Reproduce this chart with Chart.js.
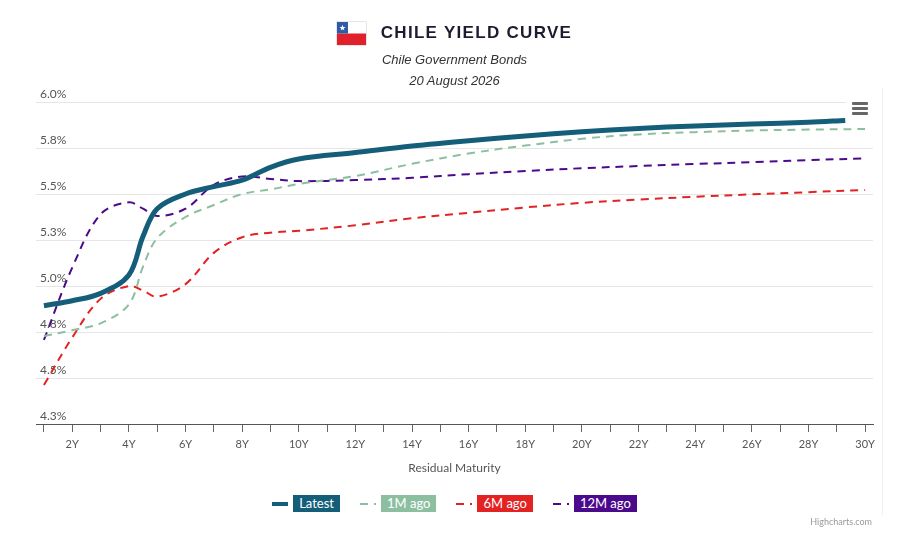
<!DOCTYPE html>
<html>
<head>
<meta charset="utf-8">
<title>Chile Yield Curve</title>
<script src="https://cdn.jsdelivr.net/npm/chart.js@4.4.1/dist/chart.umd.min.js"></script>
<style>
  html, body { margin: 0; padding: 0; background: #fff; }
  #wrap { position: relative; width: 920px; height: 539px; overflow: hidden; font-family: Lato, sans-serif; }
  #chart { position: absolute; left: 0; top: 0; }
  .head { position: absolute; left: 0; width: 909px; display: flex; justify-content: center; align-items: center; }
  #title { top: 21px; height: 24px; }
  #title span { font-family: "Liberation Sans", Arial, sans-serif; font-weight: bold; font-size: 17px; letter-spacing: 1.3px; color: #1c1c30; margin-left: 15px; }
  .flag { width: 29px; height: 23px; position: relative; box-shadow: 0 0 0 0.5px #ccc; }
  .sub { font-family: "Liberation Sans", Arial, sans-serif; font-style: italic; font-size: 13px; color: #333; height: 21px; }
  #legend { top: 495px; height: 17px; }
  .item { display: flex; align-items: center; margin: 0 10px; }
  .item svg { margin-right: 5px; }
  .item b { font-weight: normal; font-size: 13px; color: #fff; line-height: 17px; padding: 0 6px; }
  #menu { position: absolute; left: 846px; top: 97px; width: 27px; height: 24px; background: #fff; }
  #menu i { position: absolute; left: 6px; width: 16px; height: 2.5px; background: #666; border-radius: 1px; }
  #credit { position: absolute; right: 48px; top: 516px; font-size: 9px; color: #999; }
  #edge { position: absolute; left: 882px; top: 88px; width: 1px; height: 427px; background: #f0f0f0; }
</style>
</head>
<body>
<div id="wrap">
  <canvas id="chart" width="920" height="539"></canvas>
  <div id="edge"></div>
  <div id="title" class="head">
    <div class="flag">
      <svg width="29" height="23" viewBox="0 0 29 23">
        <rect x="0" y="0" width="29" height="11.5" fill="#ffffff"/>
        <rect x="0" y="11.5" width="29" height="11.5" fill="#e0202a"/>
        <rect x="0" y="0" width="11" height="11.5" fill="#2f5aa8"/>
        <polygon points="5.5,2.8 6.3,5.0 8.6,5.0 6.7,6.4 7.4,8.6 5.5,7.2 3.6,8.6 4.3,6.4 2.4,5.0 4.7,5.0" fill="#fff"/>
      </svg>
    </div>
    <span>CHILE YIELD CURVE</span>
  </div>
  <div class="head sub" style="top:49px">Chile Government Bonds</div>
  <div class="head sub" style="top:70px">20 August 2026</div>
  <div id="menu"><i style="top:5px"></i><i style="top:10px"></i><i style="top:15px"></i></div>
  <div id="legend" class="head"></div>
  <div id="credit">Highcharts.com</div>
</div>
<script>
const tenors = [1, 2, 3, 4, 4.5, 5, 6, 7, 8, 9, 10, 12, 14, 16, 18, 20, 22, 24, 26, 28, 30];
const latestTenors = [1, 2, 3, 4, 4.5, 5, 6, 7, 8, 9, 10, 12, 14, 16, 18, 20, 22, 24, 26, 28, 29.3];

const latest = [4.893, 4.92, 4.96, 5.06, 5.27, 5.42, 5.50, 5.54, 5.575, 5.645, 5.69, 5.725, 5.761, 5.79, 5.815, 5.838, 5.856, 5.87, 5.88, 5.89, 5.90];
const oneMonthAgo = [4.728, 4.76, 4.797, 4.90, 5.105, 5.26, 5.375, 5.44, 5.50, 5.525, 5.555, 5.598, 5.664, 5.72, 5.763, 5.80, 5.824, 5.836, 5.845, 5.85, 5.853];
const sixMonthsAgo = [4.462, 4.72, 4.93, 5.00, 4.975, 4.942, 5.01, 5.18, 5.265, 5.29, 5.30, 5.33, 5.368, 5.398, 5.427, 5.452, 5.47, 5.485, 5.498, 5.51, 5.522];
const twelveMonthsAgo = [4.707, 5.10, 5.39, 5.455, 5.42, 5.38, 5.42, 5.55, 5.595, 5.582, 5.57, 5.576, 5.588, 5.608, 5.625, 5.64, 5.652, 5.663, 5.673, 5.684, 5.694];

const seriesNames = ['Latest', '1M ago', '6M ago', '12M ago'];
const seriesColors = ['#155e7a', '#8cbfa0', '#e32222', '#4b0a8c'];

const xTicks = [];
for (let y = 1; y <= 30; y++) xTicks.push(y);

function points(xs, ys) {
  return xs.map((x, i) => ({ x: x, y: ys[i] }));
}

const datasets = [
  { label: seriesNames[0], data: points(latestTenors, latest), borderColor: seriesColors[0], borderWidth: 5 },
  { label: seriesNames[1], data: points(tenors, oneMonthAgo), borderColor: seriesColors[1], borderWidth: 2, borderDash: [8, 6] },
  { label: seriesNames[2], data: points(tenors, sixMonthsAgo), borderColor: seriesColors[2], borderWidth: 2, borderDash: [8, 6] },
  { label: seriesNames[3], data: points(tenors, twelveMonthsAgo), borderColor: seriesColors[3], borderWidth: 2, borderDash: [8, 6] }
];
// draw the thick line last so it sits on top
datasets[0].order = -1;

// html legend with coloured label boxes
const legend = document.getElementById('legend');
datasets.forEach(function(ds) {
  const item = document.createElement('div');
  item.className = 'item';
  const dash = ds.borderDash ? 'stroke-dasharray="8,6"' : '';
  item.innerHTML = '<svg width="16" height="8"><line x1="0" y1="4" x2="16" y2="4" stroke="' + ds.borderColor +
    '" stroke-width="' + (ds.borderWidth === 5 ? 4 : 2) + '" ' + dash + '/></svg>' +
    '<b style="background:' + ds.borderColor + '">' + ds.label + '</b>';
  legend.appendChild(item);
});

new Chart(document.getElementById('chart').getContext('2d'), {
  type: 'line',
  data: { datasets: datasets },
  options: {
    responsive: false,
    animation: false,
    events: [],
    layout: { padding: { left: 32, right: 47, top: 102, bottom: 0 } },
    font: { family: 'Lato, sans-serif' },
    plugins: { legend: { display: false }, tooltip: { enabled: false } },
    elements: { point: { radius: 0 }, line: { tension: 0.35, fill: false } },
    scales: {
      x: {
        type: 'linear',
        min: 0.72,
        max: 30.28,
        afterBuildTicks: function(s) { s.ticks = xTicks.map(v => ({ value: v })); },
        afterFit: function(s) { s.height = 115; },
        grid: { drawOnChartArea: false, drawTicks: true, tickLength: 8, color: '#666' },
        border: { display: true, color: '#555' },
        ticks: {
          autoSkip: false, maxRotation: 0, padding: 6, color: '#555',
          font: { family: 'Lato, sans-serif', size: 11 },
          callback: v => (v % 2 === 0 ? v + 'Y' : '')
        },
        title: {
          display: true, text: 'Residual Maturity', color: '#555',
          font: { family: 'Lato, sans-serif', size: 12 },
          padding: { top: 0, bottom: 64 }
        }
      },
      y: {
        min: 4.25,
        max: 6,
        afterFit: function(s) { s.width = 4; },
        grid: { color: '#e6e6e6', drawTicks: false },
        border: { display: false },
        ticks: {
          stepSize: 0.25, mirror: true, padding: 4, labelOffset: -8, color: '#555',
          font: { family: 'Lato, sans-serif', size: 12 },
          callback: v => v.toFixed(1) + '%'
        }
      }
    }
  }
});
</script>
</body>
</html>
